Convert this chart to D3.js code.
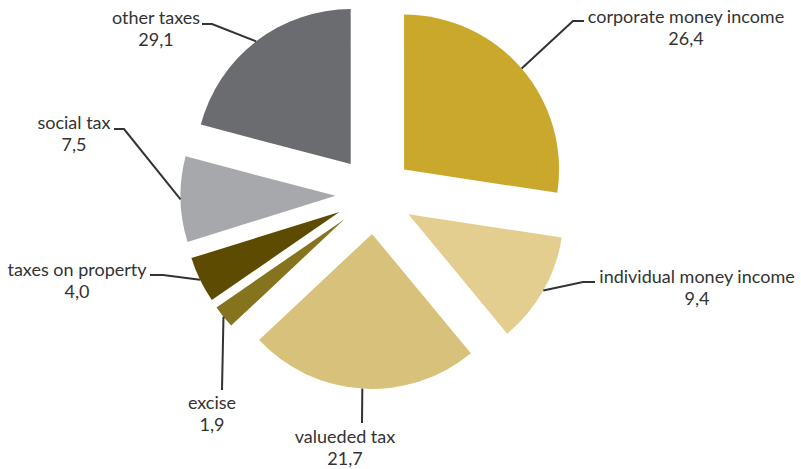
<!DOCTYPE html>
<html>
<head>
<meta charset="utf-8">
<script src="https://cdn.jsdelivr.net/npm/d3@7/dist/d3.min.js"></script>
<style>
  html, body { margin: 0; padding: 0; background: #ffffff; }
  svg { display: block; }
  text { font-family: Lato, "Open Sans", sans-serif; fill: #333333; }
</style>
</head>
<body>
<svg id="chart" width="801" height="469"></svg>
<script>
// ---- data ----
const categories = ["corporate money income", "individual money income", "valueded tax",
                    "excise", "taxes on property", "social tax", "other taxes"];
// printed labels
const labelValues = ["26,4", "9,4", "21,7", "1,9", "4,0", "7,5", "29,1"];
// slice shares as drawn in the picture (percent of the circle)
const sliceShares = [27.4, 11.6, 24.0, 2.4, 4.8, 8.9, 20.9];
const colors = ["#C9A82C", "#E3CE8F", "#D8C17A", "#86731D", "#5C4B00", "#A7A8AC", "#6B6C70"];

// ---- layout (positions of the label texts and leader elbows) ----
const labelLayout = [
  { tx: 686, ty: 23, elbow: [573, 21], end: [584, 21] },
  { tx: 697, ty: 283, elbow: [583, 282], end: [595, 282] },
  { tx: 345, ty: 443, elbow: null, end: [362, 423] },
  { tx: 212, ty: 409, elbow: null, end: [222, 390] },
  { tx: 77, ty: 276, elbow: [163, 275], end: [150, 275] },
  { tx: 74, ty: 129, elbow: [124, 129], end: [114, 129] },
  { tx: 156, ty: 24, elbow: [212, 24], end: [202, 24] }
];

const cx = 374.5, cy = 195, radius = 155, explode = 39;
const fontSize = 18, lineGap = 22;

const svg = d3.select("#chart");
const g = svg.append("g").attr("transform", `translate(${cx},${cy})`);

const pie = d3.pie().sort(null).value(d => d.share);
const arc = d3.arc().innerRadius(0).outerRadius(radius);
const rim = d3.arc().innerRadius(radius).outerRadius(radius);

const data = categories.map((c, i) => ({ name: c, share: sliceShares[i], label: labelValues[i], color: colors[i], layout: labelLayout[i] }));
const arcs = pie(data);

function offset(d) {
  const a = (d.startAngle + d.endAngle) / 2;
  return [Math.sin(a) * explode, -Math.cos(a) * explode];
}

const slices = g.selectAll("g.slice").data(arcs).enter().append("g")
  .attr("class", "slice")
  .attr("transform", d => { const o = offset(d); return `translate(${o[0]},${o[1]})`; });

slices.append("path")
  .attr("d", arc)
  .attr("fill", d => d.data.color);

// leader lines
const line = d3.line();
arcs.forEach(d => {
  const o = offset(d);
  const c = rim.centroid(d);
  const p0 = [cx + o[0] + c[0], cy + o[1] + c[1]];
  const L = d.data.layout;
  const pts = [p0];
  if (L.elbow) pts.push(L.elbow);
  pts.push(L.end);
  svg.append("path")
    .attr("d", line(pts))
    .attr("fill", "none")
    .attr("stroke", "#333333")
    .attr("stroke-width", 2);
});

// labels
arcs.forEach(d => {
  const L = d.data.layout;
  const t = svg.append("text")
    .attr("text-anchor", "middle")
    .attr("font-size", fontSize);
  t.append("tspan").attr("x", L.tx).attr("y", L.ty).text(d.data.name);
  t.append("tspan").attr("x", L.tx).attr("y", L.ty + lineGap).text(d.data.label);
});
</script>
</body>
</html>
